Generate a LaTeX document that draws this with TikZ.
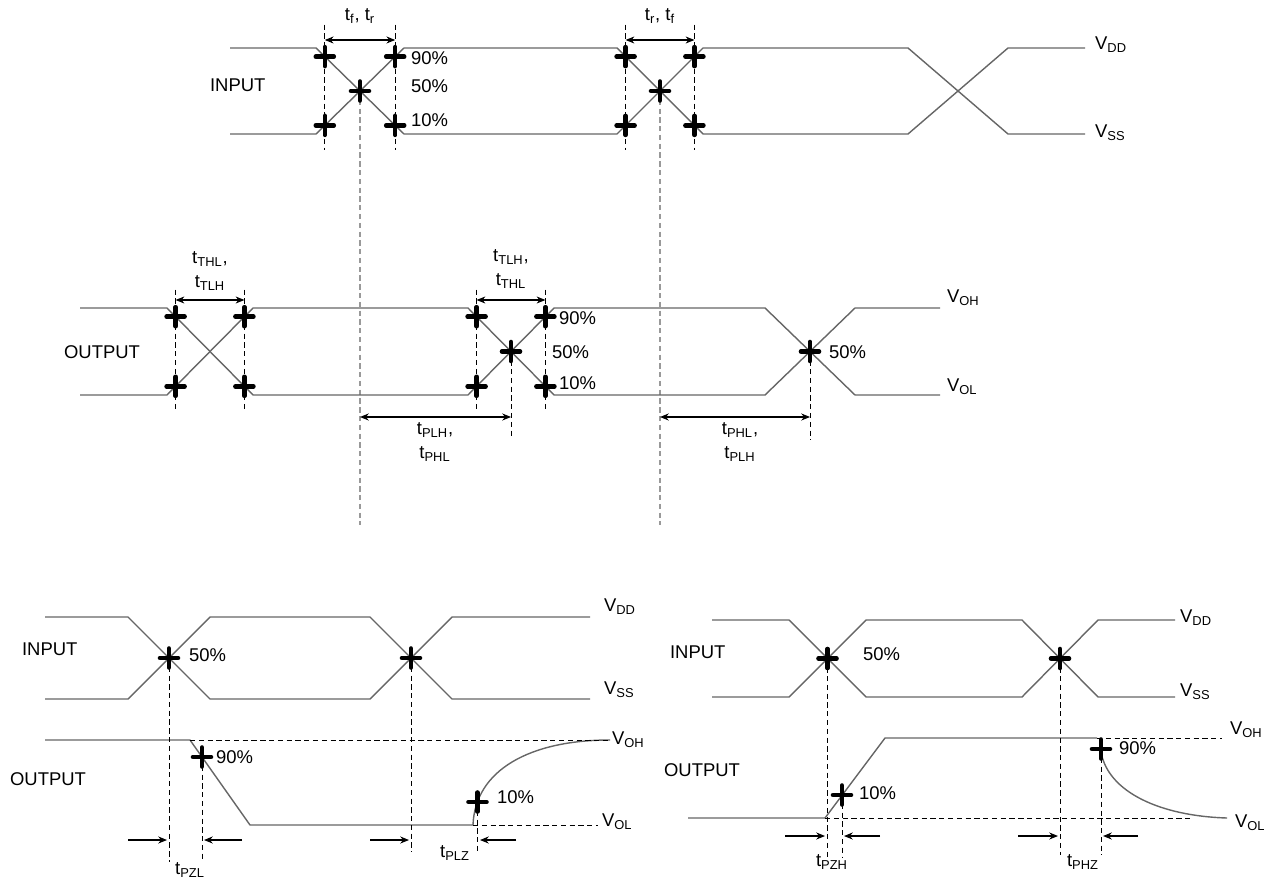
\documentclass[tikz,border=0pt]{standalone}
\usepackage{fontspec}
\setmainfont{Liberation Sans}
\usetikzlibrary{arrows.meta}
\newcommand{\tsub}[1]{t\textsubscript{#1}}
\newcommand{\vsub}[1]{V\textsubscript{#1}}
\tikzset{
  sig/.style={draw=black!60, line width=0.8pt, line join=round},
  guide/.style={draw=black, line width=0.5pt, dash pattern=on 3pt off 2pt},
  farguide/.style={draw=black!40, line width=0.8pt, dash pattern=on 3pt off 2pt},
  dim/.style={{Stealth[length=5pt,width=4pt]}-{Stealth[length=5pt,width=4pt]}, line width=0.6pt},
  push/.style={-{Stealth[length=5pt,width=4pt]}, line width=0.6pt},
  lbl/.style={font=\fontsize{10.5}{13.5}\selectfont, inner sep=1pt},
  plus/.pic={\draw[line width=2.6pt, line cap=round] (-9,0) -- (9,0) (0,-9.5) -- (0,9.5);}
}
\begin{document}
\begin{tikzpicture}[x=0.02cm, y=-0.02cm]
\useasboundingbox (0,0) rectangle (1280,891);

% ---- top: input rise/fall
\draw[sig] (230,48) -- (316,48) -- (404,134) -- (617,134) -- (703,48) -- (908,48) -- (1008,134) -- (1085,134);
\draw[sig] (230,134) -- (316,134) -- (404,48) -- (617,48) -- (703,134) -- (908,134) -- (1008,48) -- (1085,48);
\coordinate (ia) at (324.8,56.6);  \coordinate (ib) at (395.2,56.6);
\coordinate (ic) at (324.8,125.4); \coordinate (id) at (395.2,125.4);
\coordinate (ie) at (360,91);
\coordinate (ja) at (625.6,56.6);  \coordinate (jb) at (694.4,56.6);
\coordinate (jc) at (625.6,125.4); \coordinate (jd) at (694.4,125.4);
\coordinate (je) at (660,91);
\draw[guide] (ia) ++(0,-32) -- ++(0,125);
\draw[guide] (ib) ++(0,-32) -- ++(0,125);
\draw[guide] (ja) ++(0,-32) -- ++(0,125);
\draw[guide] (jb) ++(0,-32) -- ++(0,125);
\draw[farguide] (ie) -- ++(0,434);
\draw[farguide] (je) -- ++(0,434);
\foreach \p in {ia,ib,ic,id,ie,ja,jb,jc,jd,je} \pic at (\p) {plus};
\draw[dim] (324.8,40) -- (395.2,40);
\draw[dim] (625.6,40) -- (694.4,40);
\node[lbl] (trf) at (360,16) {\tsub{f}, \tsub{r}};
\node[lbl] (tfr) at (660,16) {\tsub{r}, \tsub{f}};
\node[lbl, anchor=west] (in1) at (208,85) {INPUT};
\node[lbl, anchor=west] (p90a) at (409,58) {90\%};
\node[lbl, anchor=west] (p50a) at (409,86) {50\%};
\node[lbl, anchor=west] (p10a) at (409,120) {10\%};
\node[lbl, anchor=west] (vdd1) at (1093,45) {\vsub{DD}};
\node[lbl, anchor=west] (vss1) at (1093,133) {\vsub{SS}};

% ---- middle: output transition and propagation
\draw[sig] (80,308) -- (167,308) -- (253,395) -- (468,395) -- (554,308) -- (765,308) -- (855,395) -- (940,395);
\draw[sig] (80,395) -- (167,395) -- (253,308) -- (468,308) -- (554,395) -- (765,395) -- (855,308) -- (940,308);
\coordinate (oa) at (175.6,316.7); \coordinate (ob) at (244.4,316.7);
\coordinate (oc) at (175.6,386.3); \coordinate (od) at (244.4,386.3);
\coordinate (qa) at (476.6,316.7); \coordinate (qb) at (545.4,316.7);
\coordinate (qc) at (476.6,386.3); \coordinate (qd) at (545.4,386.3);
\coordinate (qe) at (511,351.5);
\coordinate (re) at (810,351.5);
\draw[guide] (oa) ++(0,-27) -- ++(0,122);
\draw[guide] (ob) ++(0,-27) -- ++(0,122);
\draw[guide] (qa) ++(0,-27) -- ++(0,122);
\draw[guide] (qb) ++(0,-27) -- ++(0,122);
\draw[guide] (qe) -- ++(0,87);
\draw[guide] (re) -- ++(0,88);
\foreach \p in {oa,ob,oc,od,qa,qb,qc,qd,qe,re} \pic at (\p) {plus};
\draw[dim] (175.6,300) -- (244.4,300);
\draw[dim] (476.6,300) -- (545.4,300);
\draw[dim] (360,417) -- (511,417);
\draw[dim] (660,417) -- (810,417);
\node[lbl, align=center] (tt1) at (210,271) {\tsub{THL},\\\tsub{TLH}};
\node[lbl, align=center] (tt2) at (511,269) {\tsub{TLH},\\\tsub{THL}};
\node[lbl, align=center] (tp1) at (435,442) {\tsub{PLH},\\\tsub{PHL}};
\node[lbl, align=center] (tp2) at (740,442) {\tsub{PHL},\\\tsub{PLH}};
\node[lbl, anchor=west] (out1) at (62,352) {OUTPUT};
\node[lbl, anchor=west] (p90b) at (557,318) {90\%};
\node[lbl, anchor=west] (p50b) at (550,352) {50\%};
\node[lbl, anchor=west] (p10b) at (557,383) {10\%};
\node[lbl, anchor=west] (p50c) at (827,352) {50\%};
\node[lbl, anchor=west] (voh1) at (945,298) {\vsub{OH}};
\node[lbl, anchor=west] (vol1) at (945,387) {\vsub{OL}};

% ---- bottom left: enable/disable low
\draw[sig] (45,617) -- (128,617) -- (210,699) -- (370,699) -- (452,617) -- (590,617);
\draw[sig] (45,699) -- (128,699) -- (210,617) -- (370,617) -- (452,699) -- (590,699);
\draw[sig] (45,740) -- (190,740) -- (250,825) -- (473,825) .. controls (475,770) and (530,740) .. (610,740);
\draw[guide] (190,740) -- (610,740);
\draw[guide] (473,825) -- (598,825);
\coordinate (ka) at (169,658); \coordinate (kb) at (411,658);
\coordinate (kc) at (202,757); \coordinate (kd) at (477.5,802);
\draw[guide] (ka) -- ++(0,204);
\draw[guide] (kc) -- ++(0,105);
\draw[guide] (kb) -- ++(0,194);
\draw[guide] (kd) -- ++(0,50);
\foreach \p in {ka,kb,kc,kd} \pic at (\p) {plus};
\draw[push] (128,840) -- (167,840);
\draw[push] (242,840) -- (204,840);
\draw[push] (370,840) -- (409,840);
\draw[push] (516,840) -- (480,840);
\node[lbl] (tpzl) at (190,870) {\tsub{PZL}};
\node[lbl] (tplz) at (455,853) {\tsub{PLZ}};
\node[lbl, anchor=west] (in2) at (20,649) {INPUT};
\node[lbl, anchor=west] (out2) at (8,779) {OUTPUT};
\node[lbl, anchor=west] (p50d) at (187,655) {50\%};
\node[lbl, anchor=west] (p90d) at (214,757) {90\%};
\node[lbl, anchor=west] (p10d) at (495,797) {10\%};
\node[lbl, anchor=west] (vdd2) at (602,607) {\vsub{DD}};
\node[lbl, anchor=west] (vss2) at (602,690) {\vsub{SS}};
\node[lbl, anchor=west] (voh2) at (610,740) {\vsub{OH}};
\node[lbl, anchor=west] (vol2) at (600,822) {\vsub{OL}};

% ---- bottom right: enable/disable high
\draw[sig] (712,620) -- (789,620) -- (866,697) -- (1022,697) -- (1098,620) -- (1175,620);
\draw[sig] (712,697) -- (789,697) -- (866,620) -- (1022,620) -- (1098,697) -- (1175,697);
\draw[sig] (688,818) -- (825,818) -- (885,738) -- (1097,738);
\draw[sig] (1101,752) .. controls (1108,792) and (1160,816) .. (1227,818);
\draw[guide] (1097,738) -- (1222,738);
\draw[guide] (825,818) -- (1190,818);
\coordinate (la) at (827.5,658.5); \coordinate (lb) at (1060,658.5);
\coordinate (lc) at (842,795); \coordinate (ld) at (1101,749);
\draw[guide] (la) -- ++(0,198);
\draw[guide] (lc) -- ++(0,62);
\draw[guide] (lb) -- ++(0,196);
\draw[guide] (ld) -- ++(0,106);
\foreach \p in {la,lb,lc,ld} \pic at (\p) {plus};
\draw[push] (785,836) -- (825,836);
\draw[push] (880,836) -- (844,836);
\draw[push] (1018,836) -- (1058,836);
\draw[push] (1138,836) -- (1103,836);
\node[lbl] (tpzh) at (832,862) {\tsub{PZH}};
\node[lbl] (tphz) at (1083,862) {\tsub{PHZ}};
\node[lbl, anchor=west] (in3) at (668,652) {INPUT};
\node[lbl, anchor=west] (out3) at (662,770) {OUTPUT};
\node[lbl, anchor=west] (p50e) at (861,654) {50\%};
\node[lbl, anchor=west] (p10e) at (857,793) {10\%};
\node[lbl, anchor=west] (p90e) at (1117,748) {90\%};
\node[lbl, anchor=west] (vdd3) at (1178,618) {\vsub{DD}};
\node[lbl, anchor=west] (vss3) at (1178,692) {\vsub{SS}};
\node[lbl, anchor=west] (voh3) at (1228,730) {\vsub{OH}};
\node[lbl, anchor=west] (vol3) at (1233,823) {\vsub{OL}};
\end{tikzpicture}
\end{document}
